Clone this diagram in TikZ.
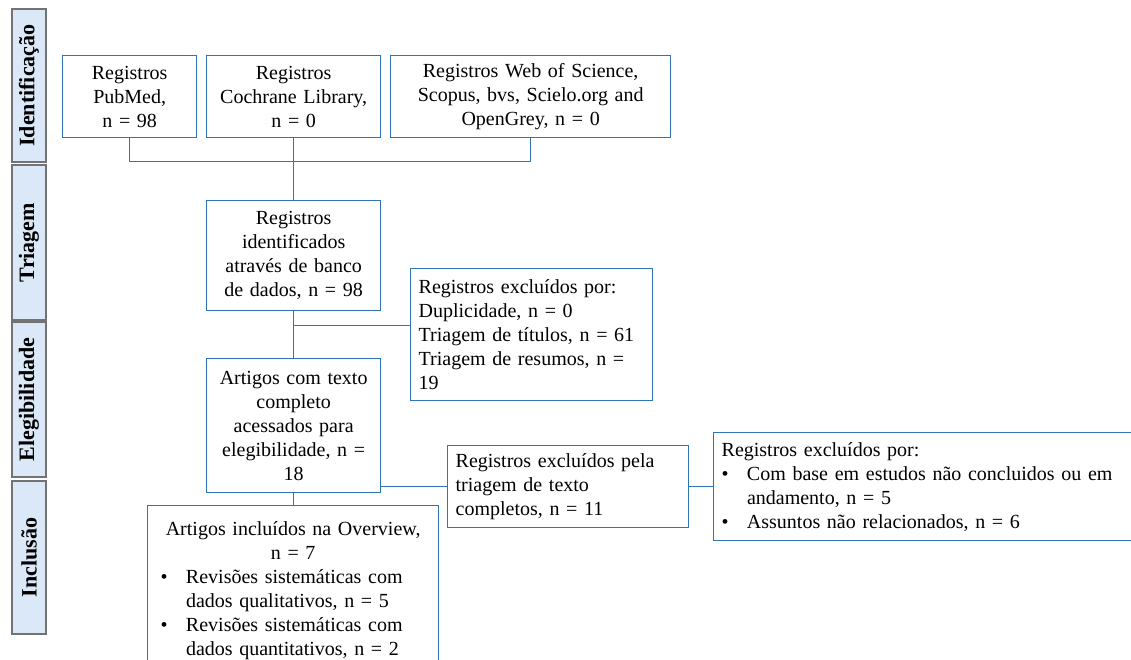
\documentclass[tikz,border=0pt]{standalone}
\usepackage{fontspec}
\setmainfont{Liberation Serif}
\usetikzlibrary{positioning, calc}
\definecolor{azul}{RGB}{46,117,182}
\definecolor{fundo}{RGB}{218,232,248}
\newcommand{\itm}[1]{\makebox[19pt][l]{\textbullet}#1}
\newcommand{\cnt}[1]{\hspace*{19pt}#1}
\tikzset{
  fase/.style = {rotate=90, draw=black!55, fill=fundo, line width=1.5pt,
    inner sep=0pt, font=\bfseries\fontsize{16.5}{18}\selectfont},
  cx/.style = {draw=azul, line width=1pt, inner sep=0pt, align=center,
    anchor=north west, font=\fontsize{15}{18}\selectfont},
  cxe/.style = {cx, align=left, inner xsep=6pt},
  lig/.style = {draw=azul, line width=1pt}
}

\begin{document}
\begin{tikzpicture}[x=0.75pt, y=-0.75pt]
  \useasboundingbox (0,0) rectangle (1131,660);
  \clip (0,0) rectangle (1131,660);
  % fases
  \node [fase, minimum width=114.75pt, minimum height=25.5pt] (f1) at (29,85.5) {Identificação};
  \node [fase, minimum width=116.25pt, minimum height=25.5pt] (f2) at (29,242.5) {Triagem};
  \node [fase, minimum width=116.25pt, minimum height=25.5pt] (f3) at (29,399.5) {Elegibilidade};
  \node [fase, minimum width=114.75pt, minimum height=25.5pt] (f4) at (29,557.5) {Inclusão};
  % identificacao
  \node [cx, text width=100.5pt, minimum height=61.5pt] (pub) at (62,55)
    {Registros\\PubMed,\\n = 98};
  \node [cx, text width=130.5pt, minimum height=61.5pt] (coch) at (206,55)
    {Registros\\Cochrane Library,\\n = 0};
  \node [cx, text width=210pt, minimum height=61.5pt] (wos) at (390,55)
    {Registros Web of Science,\\Scopus, bvs, Scielo.org and\\OpenGrey, n = 0};
  % triagem
  \node [cx, text width=130.5pt, minimum height=82.5pt] (ident) at (206,200)
    {Registros\\identificados\\através de banco\\de dados, n = 98};
  \node [cxe, text width=169.5pt, minimum height=99pt] (exc1) at (410,268)
    {Registros excluídos por:\\Duplicidade, n = 0\\Triagem de títulos, n = 61\\Triagem de resumos, n =\\19};
  % elegibilidade
  \node [cx, text width=130.5pt, minimum height=100.5pt] (art) at (206,358)
    {Artigos com texto\\completo\\acessados para\\elegibilidade, n =\\18};
  \node [cxe, text width=168.75pt, minimum height=61.5pt] (exc2) at (447,445)
    {Registros excluídos pela\\triagem de texto\\completos, n = 11};
  \node [cxe, text width=308pt, minimum height=81pt] (exc3) at (713,432)
    {Registros excluídos por:\\\itm{Com base em estudos não concluidos ou em}\\\cnt{andamento, n = 5}\\\itm{Assuntos não relacionados, n = 6}};
  % inclusao
  \node [cxe, inner xsep=9.75pt, text width=198.75pt, minimum height=127.5pt] (inc) at (147,505)
    {\makebox[198.75pt]{Artigos incluídos na Overview,}\\\makebox[198.75pt]{n = 7}\\
     \itm{Revisões sistemáticas com}\\\cnt{dados qualitativos, n = 5}\\
     \itm{Revisões sistemáticas com}\\\cnt{dados quantitativos, n = 2}};
  % ligacoes
  \draw [lig] (pub.south) -- ++(0,23) -| (wos.south);
  \draw [lig] (coch.south) -- (coch.south |- ident.north);
  \draw [lig] (ident.south) -- (ident.south |- art.north);
  \coordinate (r1) at ($(ident.south)!0.3!(ident.south |- art.north)$);
  \draw [lig] (r1) -- (r1 -| exc1.west);
  \draw [lig] (exc2.west) -- (exc2.west -| art.east);
  \draw [lig] (exc2.east) -- (exc2.east -| exc3.west);
  \draw [lig] (art.south) -- (art.south |- inc.north);
\end{tikzpicture}
\end{document}
